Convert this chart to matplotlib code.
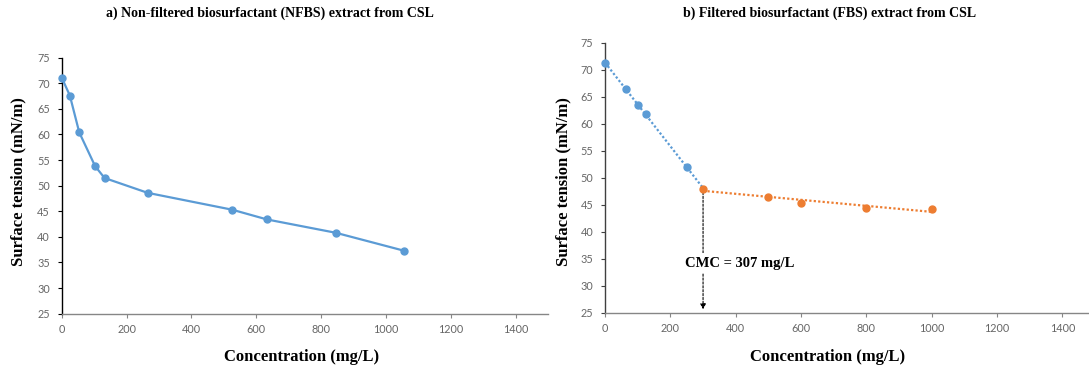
import numpy as np
import matplotlib
matplotlib.use("Agg")
import matplotlib.pyplot as plt

# ---- data ----
nfbs_conc = [0, 25, 54, 103, 132, 265, 526, 633, 845, 1055]
nfbs_st = [71.1, 67.6, 60.4, 53.8, 51.5, 48.6, 45.3, 43.4, 40.8, 37.3]

fbs_conc_pre = [0, 65, 100, 125, 250]
fbs_st_pre = [71.2, 66.4, 63.4, 61.8, 52.0]
fbs_conc_post = [300, 500, 600, 800, 1000]
fbs_st_post = [48.0, 46.5, 45.3, 44.4, 44.2]

cmc_value = 300
cmc_label = "CMC = 307 mg/L"

title_a = "a) Non-filtered biosurfactant (NFBS) extract from CSL"
title_b = "b) Filtered biosurfactant (FBS) extract from CSL"
ylabel = "Surface tension (mN/m)"
xlabel = "Concentration (mg/L)"
xticks = [0, 200, 400, 600, 800, 1000, 1200, 1400]
yticks = [25, 30, 35, 40, 45, 50, 55, 60, 65, 70, 75]

BLUE = "#5B9BD5"
ORANGE = "#ED7D31"
TICKC = "#666666"
serif = "Liberation Serif"
tickfont = "Lato"

fig = plt.figure(figsize=(10.89, 3.71), dpi=100)
ax1 = fig.add_axes([0.0567, 0.1545, 0.4468, 0.690])
ax2 = fig.add_axes([0.5556, 0.157, 0.450, 0.728])


def style(ax, ycolor):
    ax.set_xlim(0, 1500)
    ax.set_ylim(25, 75)
    ax.set_xticks(xticks)
    ax.set_yticks(yticks)
    for s in ("top", "right"):
        ax.spines[s].set_visible(False)
    ax.spines["bottom"].set_color("#868686")
    ax.spines["left"].set_color(ycolor)
    ax.spines["bottom"].set_linewidth(1.0)
    ax.spines["left"].set_linewidth(1.0)
    ax.tick_params(axis="both", direction="out", length=3, width=0.8,
                   colors="#868686", labelcolor=TICKC, labelsize=7.8)
    ax.tick_params(axis="x", pad=4.5)
    ax.tick_params(axis="y", colors=ycolor, labelcolor=TICKC, pad=5.5)
    for lab in ax.get_xticklabels() + ax.get_yticklabels():
        lab.set_fontfamily(tickfont)


style(ax1, "black")
style(ax2, "#404040")

# panel a
ax1.plot(nfbs_conc, nfbs_st, color=BLUE, lw=1.6, marker="o", ms=5,
         clip_on=False, zorder=3)

# panel b: markers + linear trendlines
ax2.plot(fbs_conc_pre, fbs_st_pre, ls="none", marker="o", ms=5, color=BLUE,
         clip_on=False, zorder=3)
ax2.plot(fbs_conc_post, fbs_st_post, ls="none", marker="o", ms=5,
         color=ORANGE, clip_on=False, zorder=3)

p1 = np.polyfit(fbs_conc_pre + fbs_conc_post[:1], fbs_st_pre + fbs_st_post[:1], 1)
xs1 = np.array([0, fbs_conc_post[0]])
ax2.plot(xs1, np.polyval(p1, xs1), color=BLUE, ls=(0, (1, 1)), lw=1.6, zorder=2)

p2 = np.polyfit(fbs_conc_post, fbs_st_post, 1)
xs2 = np.array([fbs_conc_post[0], fbs_conc_post[-1]])
ax2.plot(xs2, np.polyval(p2, xs2), color=ORANGE, ls=(0, (1, 1)), lw=1.6, zorder=2)

# CMC arrow
ax2.annotate("", xy=(cmc_value, 25.6), xytext=(cmc_value, fbs_st_post[0]),
             arrowprops=dict(arrowstyle="-|>", color="black", lw=0.8,
                             linestyle=(0, (2, 1.5)), mutation_scale=8,
                             shrinkA=0, shrinkB=0), zorder=1)
ax2.text(413, 34.2, cmc_label, ha="center", va="center", fontsize=10.5,
         fontweight="bold", family=serif,
         bbox=dict(facecolor="white", edgecolor="none", pad=2.5), zorder=4)

# titles and labels (figure coordinates)
fig.text(270 / 1089, 1 - 13 / 371, title_a, ha="center", va="center",
         fontsize=10, fontweight="bold", family=serif)
fig.text(830 / 1089, 1 - 13 / 371, title_b, ha="center", va="center",
         fontsize=10, fontweight="bold", family=serif)
fig.text(18 / 1089, 1 - 182 / 371, ylabel, rotation=90, ha="center",
         va="center", fontsize=12, fontweight="bold", family=serif)
fig.text(563 / 1089, 1 - 182 / 371, ylabel, rotation=90, ha="center",
         va="center", fontsize=12, fontweight="bold", family=serif)
fig.text(302 / 1089, 1 - 357 / 371, xlabel, ha="center", va="center",
         fontsize=12, fontweight="bold", family=serif)
fig.text(828 / 1089, 1 - 357 / 371, xlabel, ha="center", va="center",
         fontsize=12, fontweight="bold", family=serif)

fig.savefig("out.png", dpi=100)
